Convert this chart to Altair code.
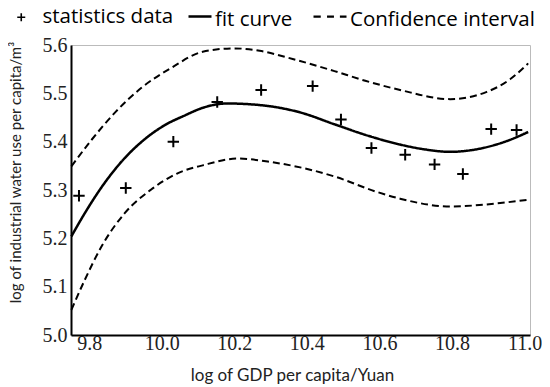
import altair as alt
import pandas as pd

# statistics data
pt_x = [9.772, 9.901, 10.032, 10.153, 10.274, 10.416, 10.494, 10.578, 10.671, 10.752, 10.830, 10.908, 10.978]
pt_y = [5.288, 5.304, 5.400, 5.482, 5.507, 5.515, 5.446, 5.387, 5.373, 5.353, 5.333, 5.426, 5.424]

# fit curve
fit_x = [9.751, 9.788, 9.843, 9.898, 9.953, 10.008, 10.063, 10.113, 10.181, 10.25, 10.310, 10.384,
         10.476, 10.57, 10.657, 10.725, 10.795, 10.886, 10.950, 11.010]
fit_y = [5.204, 5.252, 5.315, 5.366, 5.405, 5.434, 5.454, 5.470, 5.479, 5.477, 5.472, 5.460,
         5.436, 5.412, 5.394, 5.384, 5.379, 5.387, 5.401, 5.420]

# confidence interval
up_x = [9.751, 9.808, 9.871, 9.945, 10.027, 10.113, 10.20, 10.27, 10.361, 10.476, 10.561, 10.657,
        10.795, 10.896, 10.960, 11.010]
up_y = [5.349, 5.405, 5.460, 5.512, 5.553, 5.586, 5.593, 5.588, 5.571, 5.546, 5.526, 5.507,
        5.488, 5.503, 5.529, 5.562]
lo_x = [9.751, 9.788, 9.834, 9.898, 9.971, 10.045, 10.113, 10.208, 10.30, 10.476, 10.589, 10.657,
        10.795, 10.933, 11.010]
lo_y = [5.052, 5.114, 5.183, 5.252, 5.301, 5.335, 5.351, 5.365, 5.358, 5.328, 5.297, 5.282,
        5.266, 5.273, 5.280]

labels = ["statistics data", "fit curve", "Confidence interval"]
y_ticks = [5.0, 5.1, 5.2, 5.3, 5.4, 5.5, 5.6]
x_ticks = [9.8, 10.0, 10.2, 10.4, 10.6, 10.8, 11.0]

pts = pd.DataFrame({"x": pt_x, "y": pt_y, "series": labels[0]})
fit = pd.DataFrame({"x": fit_x, "y": fit_y, "series": labels[1]})
ci = pd.concat([
    pd.DataFrame({"x": up_x, "y": up_y, "band": "upper"}),
    pd.DataFrame({"x": lo_x, "y": lo_y, "band": "lower"}),
])
ci["series"] = labels[2]

xs = alt.Scale(domain=[9.75, 11.015], nice=False, zero=False)
ys = alt.Scale(domain=[5.0, 5.6], nice=False, zero=False)

serif = "Liberation Serif, Times New Roman, serif"
x_axis = alt.Axis(values=x_ticks, format=".1f", title="log of GDP per capita/Yuan",
                  titleX=221, titleY=40, titleBaseline="middle", titleAlign="center",
                  titleFontSize=17, ticks=False, labelPadding=-2, labelFont=serif, labelFontSize=20)
y_axis = alt.Axis(values=y_ticks, format=".1f", title="log of industrial water use per capita/m³",
                  titleX=-56, titleY=127, titleFontSize=15, titleAlign="center", titleBaseline="middle",
                  ticks=False, labelPadding=4, labelFont=serif, labelFontSize=20)

plus = "M-1,0H1M0,-1V1"
leg_plus = "M-1,-0.75H1M0,-1.75V0.25"
leg_solid = "M-1,-0.26H1"
leg_dashed = "M-1,-0.18H-0.56M-0.18,-0.18H0.24M0.6,-0.18H1"


def leg(x, y, sym, size, sw, offset):
    return alt.Legend(title=None, orient="none", legendX=x, legendY=y, padding=0,
                      symbolType=sym, symbolSize=size, symbolStrokeWidth=sw, symbolOpacity=1,
                      symbolStrokeColor="black", symbolFillColor="transparent",
                      labelFont="Open Sans", labelFontSize=20.5, labelColor="black",
                      labelOffset=offset, labelLimit=400)


points = alt.Chart(pts).mark_point(filled=False, color="black", opacity=1, strokeWidth=2, size=130).encode(
    x=alt.X("x:Q", scale=xs, axis=x_axis),
    y=alt.Y("y:Q", scale=ys, axis=y_axis),
    shape=alt.Shape("series:N", scale=alt.Scale(domain=[labels[0]], range=[plus]),
                    legend=leg(-60, -38, leg_plus, 64, 1.6, 11)),
)

fit_line = alt.Chart(fit).mark_line(color="black", strokeWidth=2.5, interpolate="monotone").encode(
    x=alt.X("x:Q", scale=xs), y=alt.Y("y:Q", scale=ys),
    strokeDash=alt.StrokeDash("series:N", scale=alt.Scale(domain=[labels[1]], range=[[1, 0]]),
                              legend=leg(116, -38.5, leg_solid, 529, 2.5, 2)),
)

ci_line = alt.Chart(ci).mark_line(strokeWidth=2, strokeDash=[7, 4], interpolate="monotone").encode(
    x=alt.X("x:Q", scale=xs), y=alt.Y("y:Q", scale=ys), detail="band:N",
    color=alt.Color("series:N", scale=alt.Scale(domain=[labels[2]], range=["black"]),
                    legend=leg(241, -43.5, leg_dashed, 1089, 2.2, 2)),
)

chart = alt.layer(ci_line, fit_line, points).properties(
    width=459, height=290,
    autosize=alt.AutoSizeParams(type="none"),
    padding={"left": 63, "top": 37, "right": 12, "bottom": 52},
).configure_view(stroke="#bbbbbb", strokeWidth=1).configure_axis(
    grid=False, domainColor="black", domainWidth=2, labelColor="#222",
    titleFont="Lato", titleFontWeight="normal", titleColor="#222",
)

chart.save("out.html", embed_options={"renderer": "svg", "actions": False})
